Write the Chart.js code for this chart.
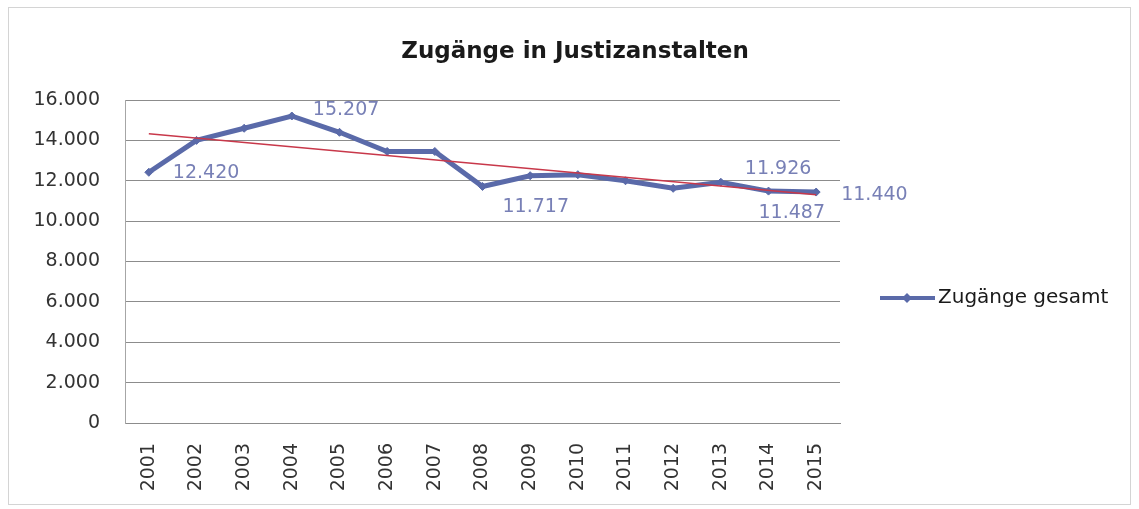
<!DOCTYPE html>
<html lang="de">
<head>
  <meta charset="UTF-8">
  <title>Zugänge in Justizanstalten</title>
  <script src="https://cdn.jsdelivr.net/npm/chart.js"></script>
  <style>
    html, body { margin: 0; padding: 0; background: #fff; }
    canvas { display: block; }
  </style>
</head>
<body>
  <canvas id="chart" width="1139" height="509"></canvas>

  <script>
    // Daten
    const years = ['2001', '2002', '2003', '2004', '2005', '2006', '2007', '2008',
                   '2009', '2010', '2011', '2012', '2013', '2014', '2015'];
    const zugaenge = [12420, 14000, 14600, 15207, 14400, 13450, 13450, 11717,
                      12250, 12300, 12000, 11625, 11926, 11487, 11440];
    const trendYears = ['2001', '2015'];
    const trendValues = [14330, 11310];
    // Punkte mit Datenbeschriftung
    const labeledPoints = [0, 3, 7, 12, 13, 14];
    const yMin = 0, yMax = 16000, yStep = 2000;

    const title = 'Zugänge in Justizanstalten';
    const seriesName = 'Zugänge gesamt';

    const lineColor = '#5a6aa9';
    const labelColor = '#7880b6';
    const trendColor = '#c8384a';
    const font = '"DejaVu Sans", sans-serif';

    function fmt(v) {
      return String(v).replace(/\B(?=(\d{3})+(?!\d))/g, '.');
    }

    // Titel, Rahmen, Legende und Beschriftungen
    const extras = {
      id: 'extras',
      beforeDraw(chart) {
        const ctx = chart.ctx;
        ctx.save();
        ctx.fillStyle = '#fff';
        ctx.fillRect(0, 0, chart.width, chart.height);
        ctx.strokeStyle = '#d4d4d4';
        ctx.lineWidth = 1;
        ctx.strokeRect(8.5, 7.5, 1122, 497);
        ctx.restore();
      },
      afterDatasetsDraw(chart) {
        const ctx = chart.ctx;
        ctx.save();
        // Titel
        ctx.fillStyle = '#1a1a1a';
        ctx.font = 'bold 23px ' + font;
        ctx.textAlign = 'center';
        ctx.textBaseline = 'middle';
        ctx.fillText(title, 575, 52);

        // Datenbeschriftungen
        const offsets = { 0: [24, 1], 3: [21, -6], 7: [20, 21], 12: [24, -13], 13: [-10, 22], 14: [25, 3] };
        const meta = chart.getDatasetMeta(0);
        ctx.font = '19px ' + font;
        ctx.fillStyle = labelColor;
        ctx.textAlign = 'left';
        labeledPoints.forEach(i => {
          const p = meta.data[i];
          const o = offsets[i] || [10, -10];
          ctx.fillText(fmt(zugaenge[i]), p.x + o[0], p.y + o[1]);
        });

        // Legende
        const ly = 298;
        ctx.strokeStyle = lineColor;
        ctx.lineWidth = 4;
        ctx.beginPath();
        ctx.moveTo(880, ly);
        ctx.lineTo(935, ly);
        ctx.stroke();
        ctx.fillStyle = lineColor;
        ctx.beginPath();
        ctx.moveTo(907, ly - 5);
        ctx.lineTo(912, ly);
        ctx.lineTo(907, ly + 5);
        ctx.lineTo(902, ly);
        ctx.closePath();
        ctx.fill();
        ctx.fillStyle = '#1a1a1a';
        ctx.font = '20px ' + font;
        ctx.textAlign = 'left';
        ctx.fillText(seriesName, 938, ly);
        ctx.restore();
      }
    };

    new Chart(document.getElementById('chart'), {
      type: 'line',
      data: {
        labels: years,
        datasets: [{
          label: seriesName,
          data: zugaenge,
          borderColor: lineColor,
          backgroundColor: lineColor,
          borderWidth: 5,
          pointStyle: 'rectRot',
          pointRadius: 4,
          pointBorderWidth: 1,
          tension: 0,
          order: 1
        }, {
          label: 'Trend',
          data: trendYears.map((y, i) => ({ x: y, y: trendValues[i] })),
          borderColor: trendColor,
          borderWidth: 1.5,
          pointRadius: 0,
          order: 0
        }]
      },
      options: {
        responsive: false,
        animation: false,
        layout: { padding: { top: 100, left: 0, right: 299, bottom: 0 } },
        plugins: {
          legend: { display: false },
          title: { display: false },
          tooltip: { enabled: false }
        },
        scales: {
          x: {
            offset: true,
            grid: { display: false, drawTicks: false },
            border: { display: true, color: '#8c8c8c', width: 1 },
            ticks: {
              color: '#333',
              font: { family: font, size: 19 },
              minRotation: 90,
              maxRotation: 90,
              padding: 20,
              autoSkip: false
            },
            afterFit(scale) { scale.height = 86; }
          },
          y: {
            min: yMin,
            max: yMax,
            grid: { color: '#8c8c8c', lineWidth: 1, drawTicks: false },
            border: { display: true, color: '#a6a6a6', width: 1 },
            ticks: {
              stepSize: yStep,
              color: '#333',
              font: { family: font, size: 19 },
              padding: 25,
              callback: v => fmt(v)
            },
            afterFit(scale) { scale.width = 125; }
          }
        }
      },
      plugins: [extras]
    });
  </script>
</body>
</html>
